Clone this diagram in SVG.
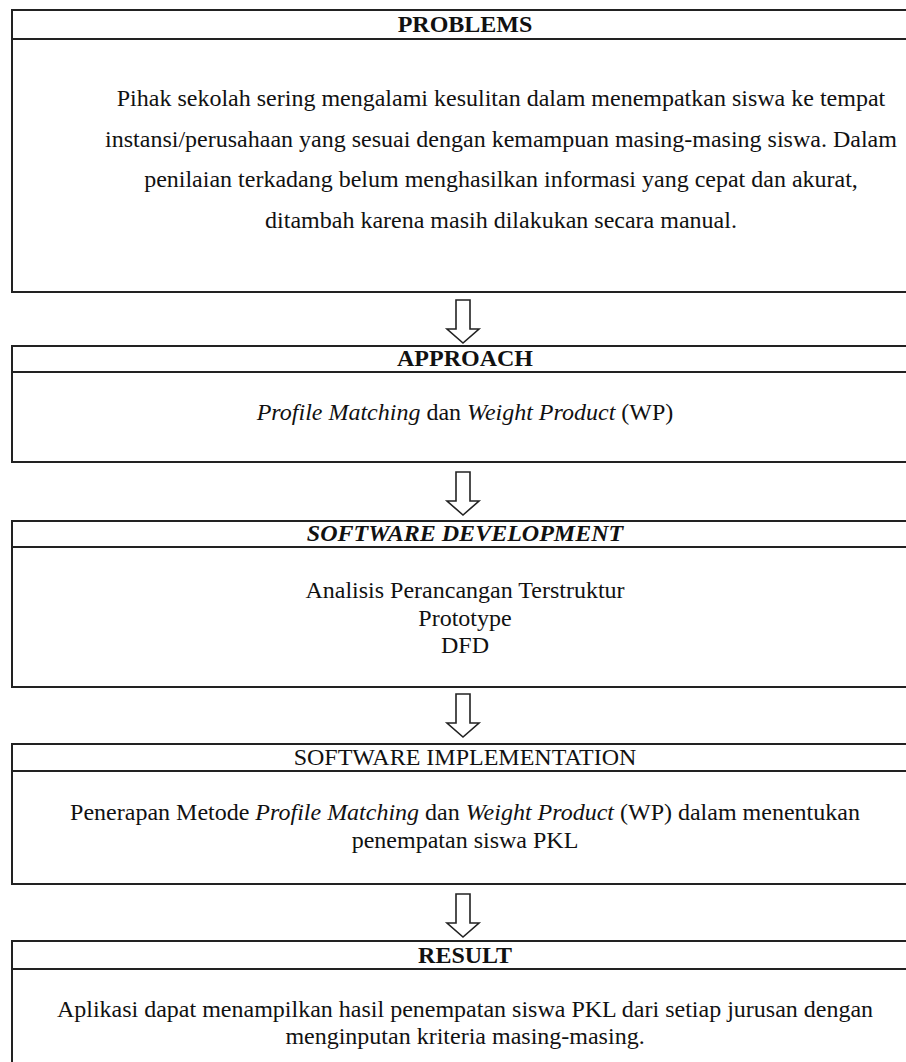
<svg xmlns="http://www.w3.org/2000/svg" width="906" height="1062" viewBox="0 0 906 1062">
<style>
.box{fill:#fff;stroke:#222;stroke-width:2}
.hdr{stroke:#222;stroke-width:2}
.arrow{fill:#fff;stroke:#222;stroke-width:1.6;stroke-linejoin:miter}
text{font-family:"Liberation Serif","Times New Roman",serif;font-size:24px;fill:#111;text-anchor:middle}
.b{font-weight:bold}
.i{font-style:italic}
</style>
<rect width="906" height="1062" fill="#fff"/>
<g id="connectors">
<path class="arrow" d="M456,300 H470 V329 H479 L463,343 L447,329 H456 Z"/>
<path class="arrow" d="M456,472 H470 V501 H479 L463,515 L447,501 H456 Z"/>
<path class="arrow" d="M456,694 H470 V723 H479 L463,737 L447,723 H456 Z"/>
<path class="arrow" d="M456,894 H470 V923 H479 L463,937 L447,923 H456 Z"/>
</g>
<g id="problems">
<rect class="box" x="12" y="10" width="906" height="282"/>
<line class="hdr" x1="12" y1="39" x2="918" y2="39"/>
<text class="b" x="465" y="32">PROBLEMS</text>
<text x="501" y="106">Pihak sekolah sering mengalami kesulitan dalam menempatkan siswa ke tempat</text>
<text x="501" y="146.5">instansi/perusahaan yang sesuai dengan kemampuan masing-masing siswa. Dalam</text>
<text x="501" y="187">penilaian terkadang belum menghasilkan informasi yang cepat dan akurat,</text>
<text x="501" y="227.5">ditambah karena masih dilakukan secara manual.</text>
</g>
<g id="approach">
<rect class="box" x="12" y="346" width="906" height="116"/>
<line class="hdr" x1="12" y1="372" x2="918" y2="372"/>
<text class="b" x="465" y="366">APPROACH</text>
<text x="465" y="420"><tspan class="i">Profile Matching</tspan> dan <tspan class="i">Weight Product</tspan> (WP)</text>
</g>
<g id="software-development">
<rect class="box" x="12" y="521" width="906" height="166"/>
<line class="hdr" x1="12" y1="547" x2="918" y2="547"/>
<text class="b i" x="465" y="541">SOFTWARE DEVELOPMENT</text>
<text x="465" y="598">Analisis Perancangan Terstruktur</text>
<text x="465" y="625.5">Prototype</text>
<text x="465" y="653">DFD</text>
</g>
<g id="software-implementation">
<rect class="box" x="12" y="744" width="906" height="140"/>
<line class="hdr" x1="12" y1="771" x2="918" y2="771"/>
<text x="465" y="765">SOFTWARE IMPLEMENTATION</text>
<text x="465" y="820">Penerapan Metode <tspan class="i">Profile Matching</tspan> dan <tspan class="i">Weight Product</tspan> (WP) dalam menentukan</text>
<text x="465" y="848">penempatan siswa PKL</text>
</g>
<g id="result">
<rect class="box" x="12" y="941" width="906" height="141"/>
<line class="hdr" x1="12" y1="969" x2="918" y2="969"/>
<text class="b" x="465" y="963">RESULT</text>
<text x="465" y="1017">Aplikasi dapat menampilkan hasil penempatan siswa PKL dari setiap jurusan dengan</text>
<text x="465" y="1044">menginputan kriteria masing-masing.</text>
</g>
</svg>
